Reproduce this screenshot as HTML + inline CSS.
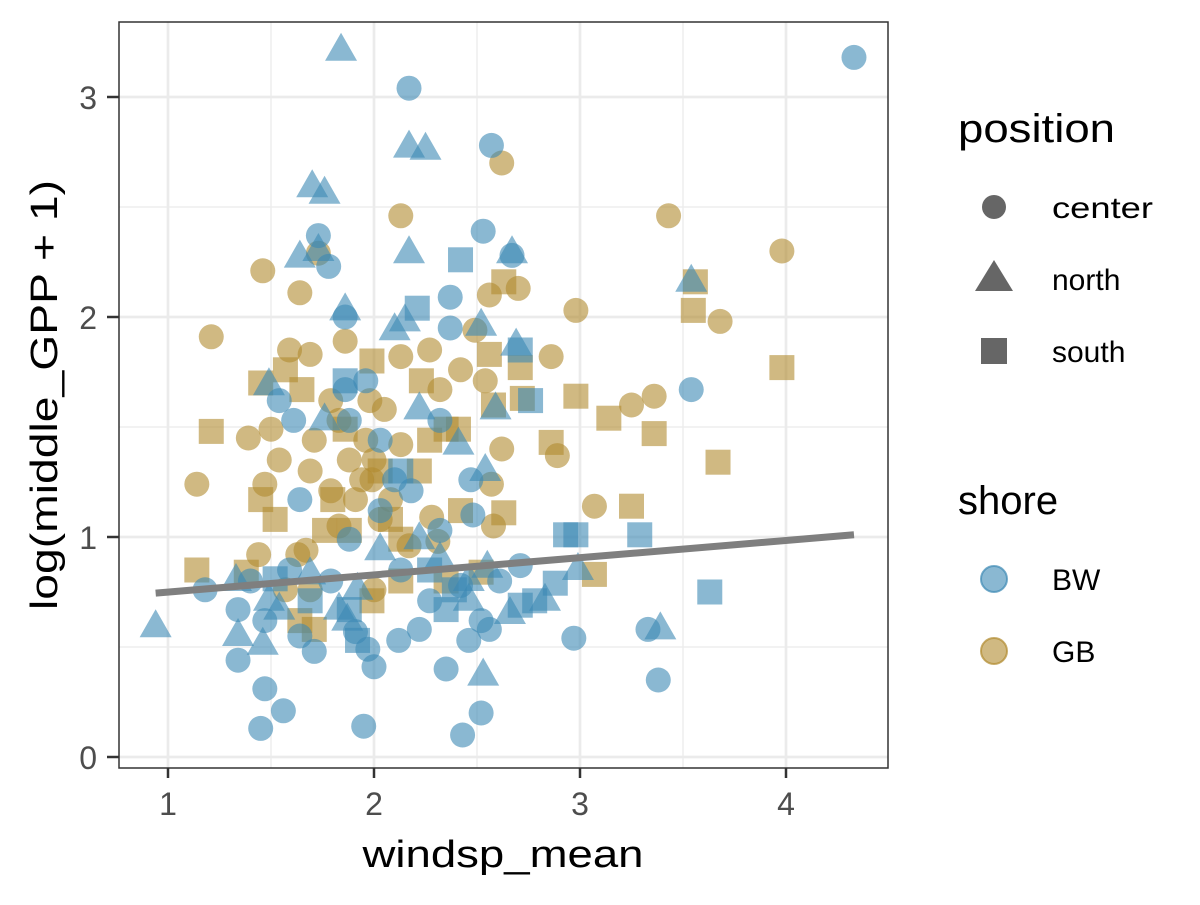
<!DOCTYPE html>
<html><head><meta charset="utf-8"><style>
body{margin:0;background:#fff;}
svg text{font-family:"Liberation Sans",sans-serif;}
</style></head><body>
<svg id="chart" width="1200" height="900" xmlns="http://www.w3.org/2000/svg">
<rect width="1200" height="900" fill="#fff"/>
<g id="grid"></g>
<g id="points"></g>
<g id="trend"></g>
<rect x="119" y="22" width="769" height="746" fill="none" stroke="#333" stroke-width="1.5"/>
<g id="axes"></g>
<text x="503" y="867" font-size="38" textLength="281" lengthAdjust="spacingAndGlyphs" text-anchor="middle" fill="#000">windsp_mean</text>
<text transform="translate(57,395) rotate(-90)" font-size="38" textLength="430" lengthAdjust="spacingAndGlyphs" text-anchor="middle" fill="#000">log(middle_GPP + 1)</text>
<g>
<text x="958" y="142" font-size="40" textLength="157" lengthAdjust="spacingAndGlyphs">position</text>
<circle cx="994" cy="207" r="12" fill="#666"/>
<text x="1052" y="218" font-size="30" textLength="101" lengthAdjust="spacingAndGlyphs">center</text>
<polygon points="994,260 1013,291 975,291" fill="#666"/>
<text x="1052" y="290" font-size="30">north</text>
<rect x="981" y="338" width="26" height="26" fill="#666"/>
<text x="1052" y="362" font-size="30">south</text>
</g>
<g>
<text x="958" y="514" font-size="40">shore</text>
<circle cx="994" cy="579" r="13" fill="#3c89b4" fill-opacity="0.6" stroke="#3c89b4" stroke-opacity="0.7" stroke-width="2"/>
<text x="1052" y="590" font-size="30">BW</text>
<circle cx="994" cy="651" r="13" fill="#b08a2e" fill-opacity="0.6" stroke="#b08a2e" stroke-opacity="0.7" stroke-width="2"/>
<text x="1052" y="662" font-size="30">GB</text>
</g>
</svg>
<script>
const xTicks=[1,2,3,4];
const yTicks=[0,1,2,3];
const xMinor=[1.5,2.5,3.5];
const yMinor=[0.5,1.5,2.5];
const lineX=[0.94,4.33];
const lineY=[0.745,1.01];
// [x, y] per group
const bwCenter=[[4.33,3.18],[2.17,3.04],[2.57,2.78],[1.73,2.37],[1.78,2.23],[2.53,2.39],[2.67,2.28],[2.37,2.09],[1.86,2.0],[2.37,1.95],[3.54,1.67],[1.86,1.67],[1.96,1.71],[1.54,1.62],[1.61,1.53],[2.47,1.26],[1.64,1.17],[2.18,1.21],[2.03,1.12],[2.48,1.1],[1.88,0.99],[2.32,1.03],[1.18,0.76],[1.34,0.67],[1.47,0.62],[1.64,0.55],[1.34,0.44],[1.47,0.31],[1.45,0.13],[1.56,0.21],[1.71,0.48],[1.91,0.57],[1.97,0.49],[2.0,0.41],[1.95,0.14],[2.12,0.53],[2.22,0.58],[2.27,0.71],[2.35,0.4],[2.46,0.53],[2.43,0.1],[2.52,0.2],[2.56,0.58],[2.52,0.62],[2.71,0.87],[2.97,0.54],[3.33,0.58],[3.38,0.35],[1.79,0.8],[2.13,0.85],[2.42,0.78],[2.61,0.8],[2.1,1.26],[1.88,1.53],[2.03,1.44],[2.32,1.53],[1.59,0.85],[1.4,0.8]];
const bwNorth=[[1.84,3.21],[2.17,2.77],[2.25,2.76],[1.70,2.59],[1.76,2.56],[1.64,2.27],[1.73,2.3],[2.17,2.29],[2.67,2.29],[3.54,2.16],[1.86,2.03],[2.1,1.94],[2.15,1.98],[2.52,1.96],[2.69,1.87],[1.49,1.69],[1.76,1.53],[2.22,1.58],[2.41,1.42],[2.59,1.58],[2.54,1.3],[0.94,0.59],[1.33,0.8],[1.34,0.55],[1.46,0.51],[1.49,0.71],[1.54,0.67],[1.69,0.83],[1.83,0.67],[1.87,0.62],[1.92,0.76],[2.03,0.94],[2.22,0.99],[2.32,0.9],[2.46,0.71],[2.53,0.37],[2.46,0.8],[2.66,0.65],[2.99,0.85],[3.39,0.58],[2.83,0.71],[2.55,0.86]];
const bwSouth=[[2.42,2.26],[2.21,2.04],[2.71,1.85],[2.76,1.62],[1.86,1.71],[2.13,1.3],[2.93,1.01],[2.98,1.01],[3.29,1.01],[3.63,0.75],[2.88,0.79],[2.78,0.71],[2.71,0.69],[2.39,0.76],[2.27,0.85],[1.88,0.67],[1.92,0.53],[1.52,0.81],[1.69,0.71],[2.35,0.67]];
const gbCenter=[[1.21,1.91],[1.46,2.21],[1.64,2.11],[1.73,2.29],[2.13,2.46],[2.62,2.7],[3.43,2.46],[3.98,2.3],[2.98,2.03],[3.68,1.98],[2.56,2.1],[2.7,2.13],[2.49,1.94],[1.86,1.89],[1.59,1.85],[1.69,1.83],[1.79,1.62],[2.27,1.85],[2.86,1.82],[2.42,1.76],[2.54,1.71],[2.32,1.67],[2.13,1.82],[1.98,1.62],[2.05,1.58],[1.39,1.45],[1.5,1.49],[1.71,1.44],[1.83,1.53],[1.88,1.35],[1.96,1.44],[2.0,1.35],[2.13,1.42],[2.62,1.4],[2.89,1.37],[3.36,1.64],[3.25,1.6],[1.14,1.24],[1.47,1.24],[1.54,1.35],[1.69,1.3],[1.79,1.21],[1.91,1.17],[1.99,1.26],[2.08,1.17],[2.28,1.09],[2.57,1.24],[2.58,1.05],[3.07,1.14],[1.44,0.92],[1.63,0.92],[1.67,0.94],[1.83,1.05],[2.03,1.08],[2.17,0.96],[2.31,0.98],[1.57,0.76],[1.69,0.76],[2.0,0.76],[1.94,1.26]];
const gbSouth=[[1.21,1.48],[1.45,1.7],[1.57,1.76],[1.65,1.67],[1.99,1.8],[2.63,2.16],[2.56,1.83],[2.71,1.77],[2.72,1.63],[2.58,1.6],[2.98,1.64],[3.14,1.54],[3.36,1.47],[2.86,1.43],[3.56,2.16],[3.55,2.03],[3.98,1.77],[3.67,1.34],[3.25,1.14],[3.07,0.83],[2.63,1.11],[1.14,0.85],[1.38,0.84],[1.45,1.17],[1.52,1.08],[1.8,1.17],[1.88,1.03],[1.76,1.03],[2.13,0.99],[2.22,1.3],[2.27,1.44],[2.35,1.49],[2.41,1.49],[2.42,1.12],[2.08,1.08],[1.99,0.71],[1.64,0.62],[1.71,0.58],[2.03,1.3],[1.86,1.49],[2.23,1.71],[2.35,0.8],[2.52,0.84],[2.13,0.8]];

const NS='http://www.w3.org/2000/svg';
const X=v=>168+(v-1)*206;
const Y=v=>757-v*220;
function mk(tag,parent){const e=document.createElementNS(NS,tag);document.getElementById(parent).appendChild(e);return e;}

xMinor.forEach(v=>{const l=mk('line','grid');


l.setAttribute('x1',X(v));l.setAttribute('x2',X(v));l.setAttribute('y1',22);l.setAttribute('y2',768);l.setAttribute('stroke','#ebebeb');l.setAttribute('stroke-width','1.3');});
yMinor.forEach(v=>{const l=mk('line','grid');


l.setAttribute('x1',119);l.setAttribute('x2',888);l.setAttribute('y1',Y(v));l.setAttribute('y2',Y(v));l.setAttribute('stroke','#ebebeb');l.setAttribute('stroke-width','1.3');});
xTicks.forEach(v=>{const l=mk('line','grid');


l.setAttribute('x1',X(v));l.setAttribute('x2',X(v));l.setAttribute('y1',22);l.setAttribute('y2',768);l.setAttribute('stroke','#ebebeb');l.setAttribute('stroke-width','2.7');
const t=mk('line','axes');


t.setAttribute('x1',X(v));t.setAttribute('x2',X(v));t.setAttribute('y1',768);t.setAttribute('y2',778);t.setAttribute('stroke','#333');t.setAttribute('stroke-width','2.5');
const s=mk('text','axes');


s.setAttribute('x',X(v));s.setAttribute('y',815);s.setAttribute('font-size','32');s.setAttribute('fill','#4d4d4d');s.setAttribute('text-anchor','middle');s.textContent=v;});
yTicks.forEach(v=>{const l=mk('line','grid');


l.setAttribute('x1',119);l.setAttribute('x2',888);l.setAttribute('y1',Y(v));l.setAttribute('y2',Y(v));l.setAttribute('stroke','#ebebeb');l.setAttribute('stroke-width','2.7');
const t=mk('line','axes');


t.setAttribute('x1',107);t.setAttribute('x2',119);t.setAttribute('y1',Y(v));t.setAttribute('y2',Y(v));t.setAttribute('stroke','#333');t.setAttribute('stroke-width','2.5');
const s=mk('text','axes');


s.setAttribute('x',97);s.setAttribute('y',Y(v)+12);s.setAttribute('font-size','32');s.setAttribute('fill','#4d4d4d');s.setAttribute('text-anchor','end');s.textContent=v;});

function draw(arr,shape,color,name){
  arr.forEach(p=>{
    const cx=X(p[0]),cy=Y(p[1]);let e;
    if(shape==='c'){e=mk('circle','points');e.setAttribute('cx',cx);e.setAttribute('cy',cy);e.setAttribute('r',12.5);}
    else if(shape==='t'){e=mk('polygon','points');e.setAttribute('points',`${cx},${cy-18} ${cx+16},${cy+10} ${cx-16},${cy+10}`);}
    else {e=mk('rect','points');e.setAttribute('x',cx-12.5);e.setAttribute('y',cy-12.5);e.setAttribute('width',25);e.setAttribute('height',25);}
    
    
    e.setAttribute('fill',color);e.setAttribute('fill-opacity','0.6');
  });
}
draw(gbCenter,'c','#b08a2e','point-gb-center');
draw(gbSouth,'s','#b08a2e','point-gb-south');
draw(bwCenter,'c','#3c89b4','point-bw-center');
draw(bwNorth,'t','#3c89b4','point-bw-north');
draw(bwSouth,'s','#3c89b4','point-bw-south');

const tl=mk('line','trend');


tl.setAttribute('x1',X(lineX[0]));tl.setAttribute('y1',Y(lineY[0]));tl.setAttribute('x2',X(lineX[1]));tl.setAttribute('y2',Y(lineY[1]));
tl.setAttribute('stroke','#7f7f7f');tl.setAttribute('stroke-width','7');
</script>
</body></html>
